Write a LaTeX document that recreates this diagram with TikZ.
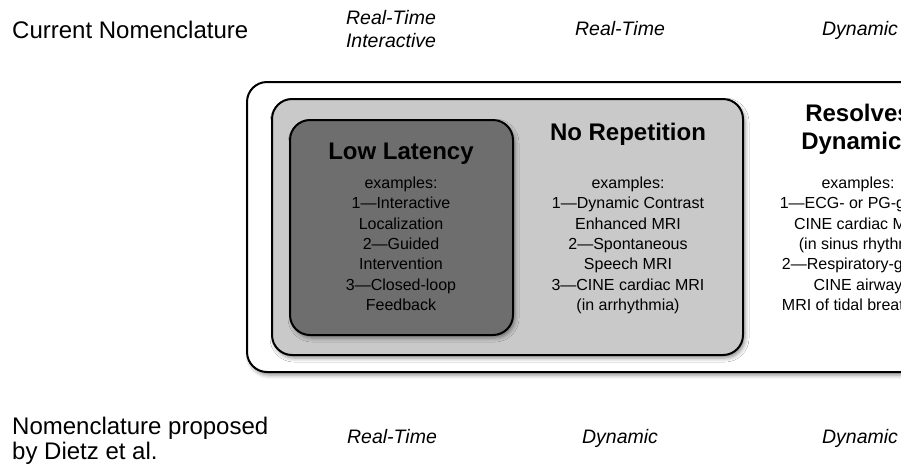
\documentclass[tikz,border=0pt]{standalone}
\usepackage{fontspec}
\setmainfont{Liberation Sans}
\usetikzlibrary{shadows.blur}
\definecolor{lightbox}{RGB}{201,201,201}
\definecolor{darkbox}{RGB}{110,110,110}

\begin{document}
\begin{tikzpicture}[x=1pt,y=-1pt,
	side/.style={inner sep=0pt,align=left,font=\fontsize{24}{25}\selectfont},
	kind/.style={inner sep=0pt,align=center,font=\fontsize{19.5}{23}\selectfont\itshape},
	head/.style={inner sep=0pt,align=center,font=\fontsize{24}{28}\selectfont\bfseries},
	exlist/.style={inner sep=0pt,align=center,font=\fontsize{16}{20.4}\selectfont},
	panel/.style={line width=2pt,rounded corners=20pt,
		blur shadow={shadow xshift=2pt,shadow yshift=-3pt,shadow blur radius=4pt,shadow opacity=45}}]
	\clip (0,0) rectangle (901,464);
	% nested boxes
	\filldraw[panel,fill=white] (247,82) rectangle (960,372);
	\filldraw[panel,fill=lightbox] (272,99) rectangle (743,355);
	\filldraw[panel,fill=darkbox] (290,120) rectangle (513,335);
	% nomenclature rows
	\node[side,anchor=base west] (cur) at (12,38) {Current Nomenclature};
	\node[kind,anchor=north] (rti) at (391,10) {Real-Time\\Interactive};
	\node[kind,anchor=base] (rt) at (620,35) {Real-Time};
	\node[kind,anchor=base] (dyn) at (860,35) {Dynamic};
	\node[side,anchor=north west] (dietz) at (12,417) {Nomenclature proposed\\by Dietz et al.};
	\node[kind,anchor=base] (drt) at (392,443) {Real-Time};
	\node[kind,anchor=base] (ddyn) at (620,443) {Dynamic};
	\node[kind,anchor=base] (ddyn2) at (860,443) {Dynamic};
	% categories
	\node[head,anchor=base] (lowlat) at (401,159) {Low Latency};
	\node[head,anchor=base] (norep) at (628,140) {No Repetition};
	\node[head,anchor=north] (resolv) at (858,104) {Resolves\\Dynamics};
	\node[exlist,anchor=north] (ex1) at (401,176.5) {examples:\\1—Interactive\\Localization\\2—Guided\\Intervention\\3—Closed-loop\\Feedback};
	\node[exlist,anchor=north] (ex2) at (628,176.5) {examples:\\1—Dynamic Contrast\\Enhanced MRI\\2—Spontaneous\\Speech MRI\\3—CINE cardiac MRI\\(in arrhythmia)};
	\node[exlist,anchor=north] (ex3) at (858,176.5) {examples:\\1—ECG- or PG-gated\\CINE cardiac MRI\\(in sinus rhythm)\\2—Respiratory-gated\\CINE airway\\MRI of tidal breathing};
\end{tikzpicture}
\end{document}
